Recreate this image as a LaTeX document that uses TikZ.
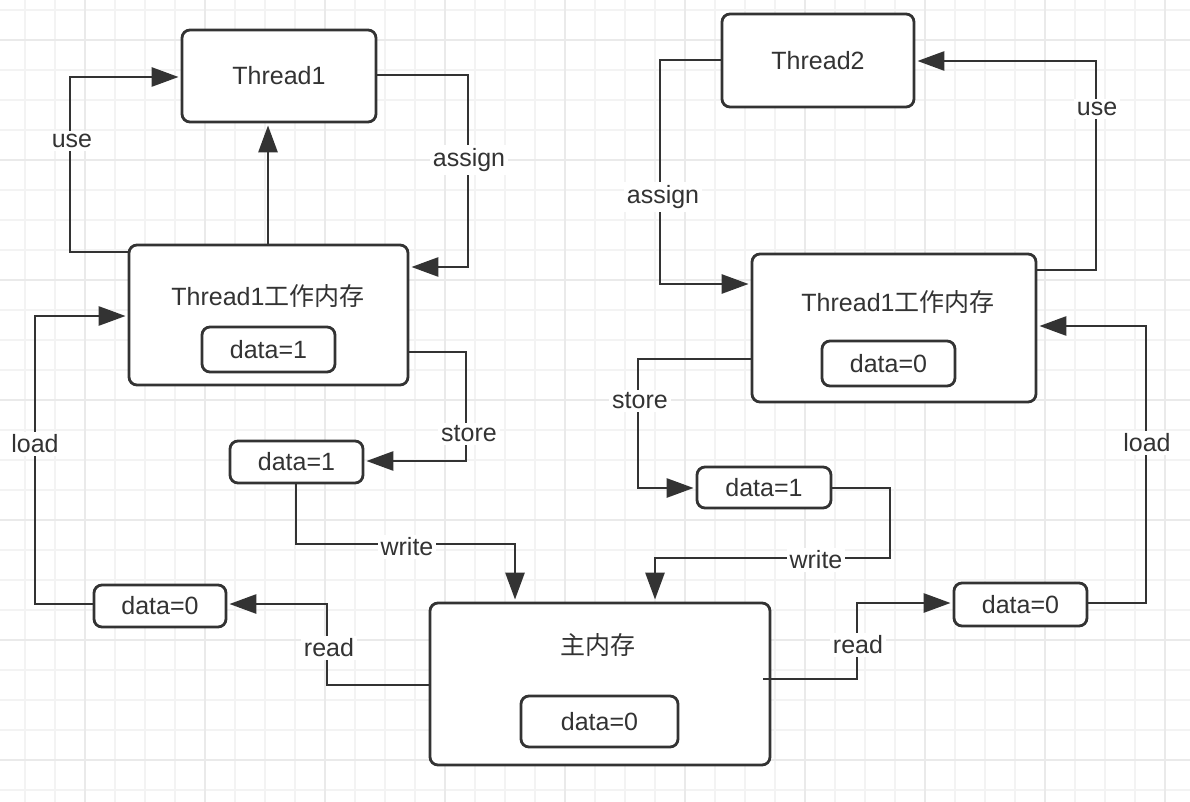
\documentclass[tikz,border=0pt]{standalone}
\usepackage{fontspec}
\setmainfont{Liberation Sans}
\newfontfamily\cjk{Noto Sans CJK SC}
\usetikzlibrary{arrows.meta}
\definecolor{ink}{HTML}{333333}
\definecolor{gridminor}{HTML}{F3F3F3}
\definecolor{gridmajor}{HTML}{EAEAEA}

\begin{document}
\begin{tikzpicture}
        [%%%%%%%%%%%%%%%%%%%%%%%%%%%%%%
        x=1pt, y=-1pt,
        box/.style={draw=ink, line width=2.8pt, rounded corners=8pt, fill=white,
          text=ink, font=\fontsize{25}{30}\selectfont, inner sep=0pt},
        title/.style={text=ink, font=\fontsize{25}{30}\selectfont, inner sep=0pt},
        lbl/.style={fill=white, text=ink, inner sep=3pt, font=\fontsize{25}{30}\selectfont},
        link/.style={draw=ink, line width=2.8pt, shorten >=2pt,
          -{Triangle[length=27pt,width=19pt]}},
        ]%%%%%%%%%%%%%%%%%%%%%%%%%%%%%%
        \useasboundingbox (0,0) rectangle (1190,802);
        \fill[white] (0,0) rectangle (1190,802);
        % Background grid
        \foreach \x in {25,55,...,1185}{
          \draw[gridminor, line width=1.5pt] (\x,0) -- (\x,802);
        }
        \foreach \y in {10,40,...,800}{
          \draw[gridminor, line width=1.5pt] (0,\y) -- (1190,\y);
        }
        \foreach \x in {85,205,...,1165}{
          \draw[gridmajor, line width=1.5pt] (\x,0) -- (\x,802);
        }
        \foreach \y in {40,160,...,800}{
          \draw[gridmajor, line width=1.5pt] (0,\y) -- (1190,\y);
        }
        % Threads
        \node[box, minimum width=194pt, minimum height=92pt] (t1) at (279,76) {Thread1};
        \node[box, minimum width=192pt, minimum height=93pt] (t2) at (818,60.5) {Thread2};
        % Working memories
        \node[box, minimum width=279pt, minimum height=140pt] (wm1) at (268.5,315) {};
        \node[title] (wm1title) at (268,296) {Thread1{\cjk 工作内存}};
        \node[box, minimum width=133pt, minimum height=45pt] (wm1data) at (268.5,349.5) {data=1};
        \node[box, minimum width=284pt, minimum height=148pt] (wm2) at (894,328) {};
        \node[title] (wm2title) at (898,302) {Thread1{\cjk 工作内存}};
        \node[box, minimum width=133pt, minimum height=45pt] (wm2data) at (888.5,363.5) {data=0};
        % Main memory
        \node[box, minimum width=340pt, minimum height=162pt] (mm) at (600,684) {};
        \node[title] (mmtitle) at (598,645) {\cjk 主内存};
        \node[box, minimum width=157pt, minimum height=51pt] (mmdata) at (599.5,721.5) {data=0};
        % Values in transit
        \node[box, minimum width=133pt, minimum height=42pt] (st1) at (296.5,462) {data=1};
        \node[box, minimum width=134pt, minimum height=41pt] (st2) at (764,487.5) {data=1};
        \node[box, minimum width=132pt, minimum height=42pt] (rd1) at (160,606) {data=0};
        \node[box, minimum width=133pt, minimum height=43pt] (rd2) at (1020.5,604.5) {data=0};
        % Thread1 side
        \draw[link] (wm1.west |- 0,252) -- (70,252) -- (70,77) -- (t1.west |- 0,77);
        \draw[link] (wm1.north -| 268,0) -- (t1.south -| 268,0);
        \draw[link] (t1.east |- 0,75) -- (468,75) -- (468,267) -- (wm1.east |- 0,267);
        \draw[link] (wm1.east |- 0,352) -- (466,352) -- (466,461) -- (st1.east |- 0,461);
        \draw[link] (st1.south -| 296,0) -- (296,544) -- (515,544) -- (mm.north -| 515,0);
        \draw[link] (mm.west |- 0,685) -- (327,685) -- (327,604) -- (rd1.east |- 0,604);
        \draw[link] (rd1.west |- 0,604) -- (35,604) -- (35,316) -- (wm1.west |- 0,316);
        % Thread2 side
        \draw[link] (t2.west |- 0,60) -- (660,60) -- (660,284) -- (wm2.west |- 0,284);
        \draw[link] (wm2.east |- 0,270) -- (1096,270) -- (1096,61) -- (t2.east |- 0,61);
        \draw[link] (wm2.west |- 0,359) -- (638,359) -- (638,488) -- (st2.west |- 0,488);
        \draw[link] (st2.east |- 0,488) -- (890,488) -- (890,558) -- (655,558) -- (mm.north -| 655,0);
        \draw[link] (763,679) -- (857,679) -- (857,603) -- (rd2.west |- 0,603);
        \draw[link] (rd2.east |- 0,603) -- (1146,603) -- (1146,326) -- (wm2.east |- 0,326);
        % Labels
        \node[lbl] (use1) at (72,141) {use};
        \node[lbl] (assign1) at (469,160) {assign};
        \node[lbl] (store1) at (469,434) {store};
        \node[lbl] (write1) at (407,547) {write};
        \node[lbl] (read1) at (329,648) {read};
        \node[lbl] (load1) at (35,444) {load};
        \node[lbl] (assign2) at (663,197) {assign};
        \node[lbl] (use2) at (1097,109) {use};
        \node[lbl] (store2) at (640,401) {store};
        \node[lbl] (write2) at (816,560) {write};
        \node[lbl] (read2) at (858,645) {read};
        \node[lbl] (load2) at (1147,443) {load};
      \end{tikzpicture}
\end{document}
